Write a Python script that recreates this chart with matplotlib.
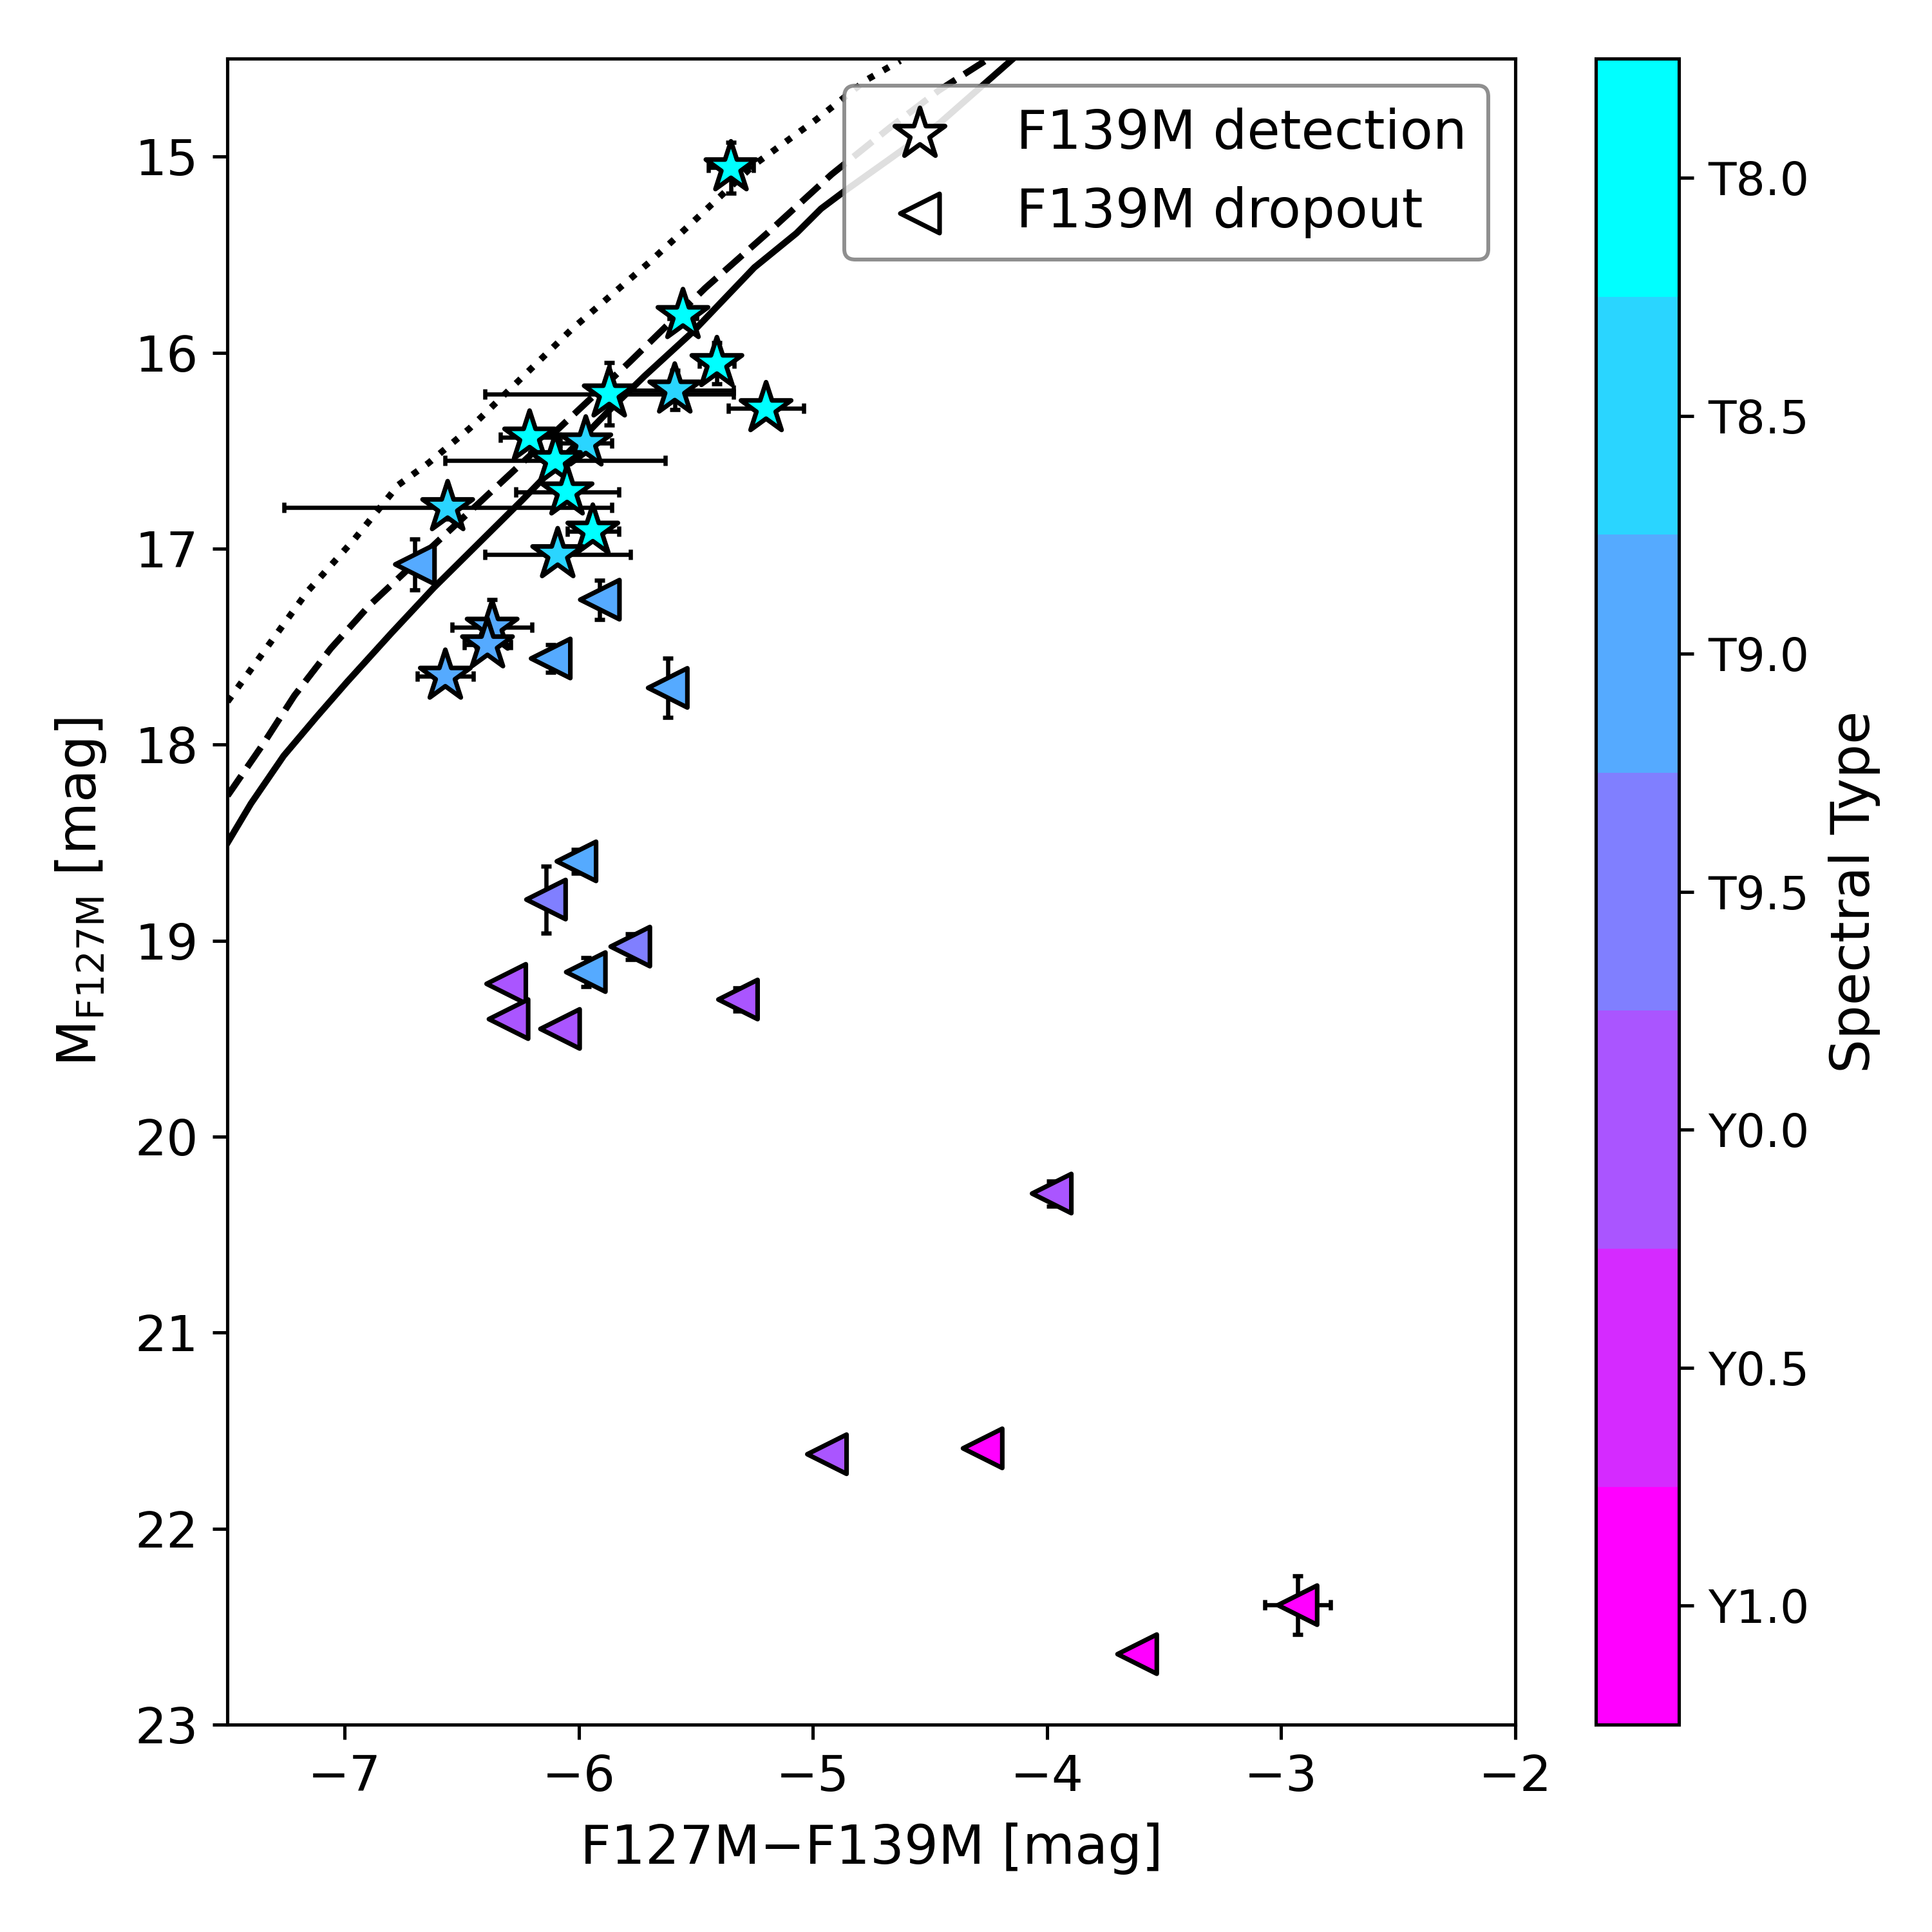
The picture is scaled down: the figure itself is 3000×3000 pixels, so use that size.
import numpy as np
import matplotlib
matplotlib.use("Agg")
from matplotlib import pyplot as plt
from matplotlib.colors import ListedColormap, BoundaryNorm
from matplotlib.cm import ScalarMappable

# spectral type as number: T8=8 ... T9.5=9.5, Y0=10, Y0.5=10.5, Y1=11
spt_ticks = [8.0, 8.5, 9.0, 9.5, 10.0, 10.5, 11.0]
spt_labels = ['T8.0', 'T8.5', 'T9.0', 'T9.5', 'Y0.0', 'Y0.5', 'Y1.0']

# F139M detections (stars)
det_color = [-5.35, -5.555, -5.41, -5.87, -5.59, -5.20, -6.21, -5.97,
             -6.10, -6.05, -6.56, -5.94, -6.09, -6.37, -6.39, -6.57]
det_mag = [15.056, 15.81, 16.055, 16.21, 16.19, 16.285, 16.43, 16.46,
           16.55, 16.71, 16.79, 16.91, 17.03, 17.40, 17.49, 17.65]
det_xerr = [0.095, 0.06, 0.075, 0.53, 0.25, 0.16, 0.125, 0.11,
            0.47, 0.22, 0.70, 0.11, 0.31, 0.17, 0.10, 0.12]
det_yerr = [0.13, 0.03, 0.105, 0.16, 0.10, 0.03, 0.03, 0.03,
            0.03, 0.03, 0.06, 0.03, 0.03, 0.14, 0.03, 0.03]
det_spt = [8.0, 8.0, 8.0, 8.0, 8.5, 8.0, 8.0, 8.5,
           8.0, 8.0, 8.5, 8.0, 8.5, 9.0, 9.0, 9.0]

# F139M dropouts (triangles)
drop_color = [-6.70, -5.91, -6.12, -5.62, -6.01, -6.14, -5.78, -5.97, -6.31,
              -6.30, -6.08, -5.32, -3.98, -4.94, -4.275, -2.93, -3.615]
drop_mag = [17.08, 17.26, 17.56, 17.71, 18.595, 18.79, 19.03, 19.16, 19.22,
            19.40, 19.45, 19.30, 20.29, 21.62, 21.59, 22.39, 22.64]
drop_xerr = [0.0, 0.0, 0.0, 0.0, 0.0, 0.0, 0.0, 0.0, 0.0,
             0.0, 0.0, 0.0, 0.0, 0.0, 0.0, 0.14, 0.0]
drop_yerr = [0.13, 0.10, 0.07, 0.15, 0.06, 0.17, 0.065, 0.075, 0.0,
             0.0, 0.0, 0.06, 0.065, 0.0, 0.03, 0.15, 0.03]
drop_spt = [9.0, 9.0, 9.0, 9.0, 9.0, 9.5, 9.5, 9.0, 10.0,
            10.0, 10.0, 10.0, 10.0, 10.0, 11.0, 11.0, 11.0]

# model sequences
solid_x = [-7.50, -7.40, -7.26, -7.12, -6.99, -6.80, -6.62, -6.24, -5.875,
           -5.72, -5.51, -5.25, -5.07, -4.965, -4.87, -4.67, -4.46, -4.15]
solid_y = [18.50, 18.30, 18.056, 17.858, 17.68, 17.43, 17.20, 16.75, 16.30,
           16.12, 15.89, 15.565, 15.39, 15.265, 15.18, 15.01, 14.83, 14.505]
dash_x = [-7.50, -7.35, -7.215, -7.06, -6.895, -6.60, -6.276, -5.785,
          -5.46, -5.195, -4.92, -4.67, -4.46, -4.25]
dash_y = [18.26, 18.00, 17.75, 17.51, 17.29, 16.96, 16.60, 16.05,
          15.67, 15.39, 15.09, 14.85, 14.66, 14.50]
dot_x = [-7.50, -7.16, -6.956, -6.77, -6.642, -6.467, -6.03, -5.70,
         -5.51, -5.25, -4.985, -4.774, -4.627]
dot_y = [17.78, 17.22, 16.948, 16.674, 16.563, 16.387, 15.88, 15.54,
         15.33, 15.04, 14.81, 14.61, 14.51]

cmap = ListedColormap(plt.cm.cool(np.linspace(0, 1, len(spt_ticks))))
bounds = np.arange(7.75, 11.5, 0.5)
norm = BoundaryNorm(bounds, cmap.N)

fig = plt.figure(figsize=(7, 7), dpi=3000 / 7)
ax = fig.add_axes([0.1178, 0.1073, 0.6665, 0.8623])
cax = fig.add_axes([0.826, 0.1073, 0.043, 0.8623])

ax.plot(solid_x, solid_y, color='k', linestyle='-', linewidth=1.7, zorder=1)
ax.plot(dash_x, dash_y, color='k', linestyle='--', linewidth=1.7, zorder=1)
ax.plot(dot_x, dot_y, color='k', linestyle=':', linewidth=1.7, zorder=1)

ax.errorbar(det_color, det_mag, xerr=det_xerr, yerr=det_yerr, fmt='none',
            ecolor='k', elinewidth=1.1, capsize=1.3, capthick=1.1, zorder=2)
ax.errorbar(drop_color, drop_mag, xerr=drop_xerr, yerr=drop_yerr, fmt='none',
            ecolor='k', elinewidth=1.1, capsize=1.3, capthick=1.1, zorder=2)

ax.scatter(det_color, det_mag, c=det_spt, cmap=cmap, norm=norm, marker='*',
           s=190, edgecolors='k', linewidths=1.2, zorder=3)
ax.scatter(drop_color, drop_mag, c=drop_spt, cmap=cmap, norm=norm, marker='<',
           s=105, edgecolors='k', linewidths=1.2, zorder=3)

# legend proxies
ax.scatter([], [], marker='*', s=190, facecolors='w', edgecolors='k',
           linewidths=1.2, label='F139M detection')
ax.scatter([], [], marker='<', s=105, facecolors='w', edgecolors='k',
           linewidths=1.2, label='F139M dropout')
leg = ax.legend(loc='upper right', fontsize=14, scatterpoints=1,
                framealpha=0.88, edgecolor='gray')

ax.set_xlim(-7.5, -2)
ax.set_ylim(23, 14.5)
ax.set_xticks([-7, -6, -5, -4, -3, -2])
ax.set_yticks([15, 16, 17, 18, 19, 20, 21, 22, 23])
ax.tick_params(labelsize=13, length=3.8, width=0.86, pad=3.8)
for sp in ax.spines.values():
    sp.set_linewidth(0.86)
ax.set_xlabel('F127M\u2212F139M [mag]', fontsize=14, labelpad=5.5)
ax.set_ylabel(r'M$_{\rm F127M}$ [mag]', fontsize=14, labelpad=7)

sm = ScalarMappable(norm=norm, cmap=cmap)
cbar = fig.colorbar(sm, cax=cax, boundaries=bounds, ticks=spt_ticks)
cbar.ax.set_yticklabels(spt_labels)
cbar.ax.tick_params(labelsize=12, length=3.8, width=0.86, pad=3.8)
cbar.outline.set_linewidth(0.86)
cbar.ax.invert_yaxis()
cbar.ax.minorticks_off()
cbar.set_label('Spectral Type', fontsize=14, labelpad=5)

fig.savefig('out.png', dpi=3000 / 7)
